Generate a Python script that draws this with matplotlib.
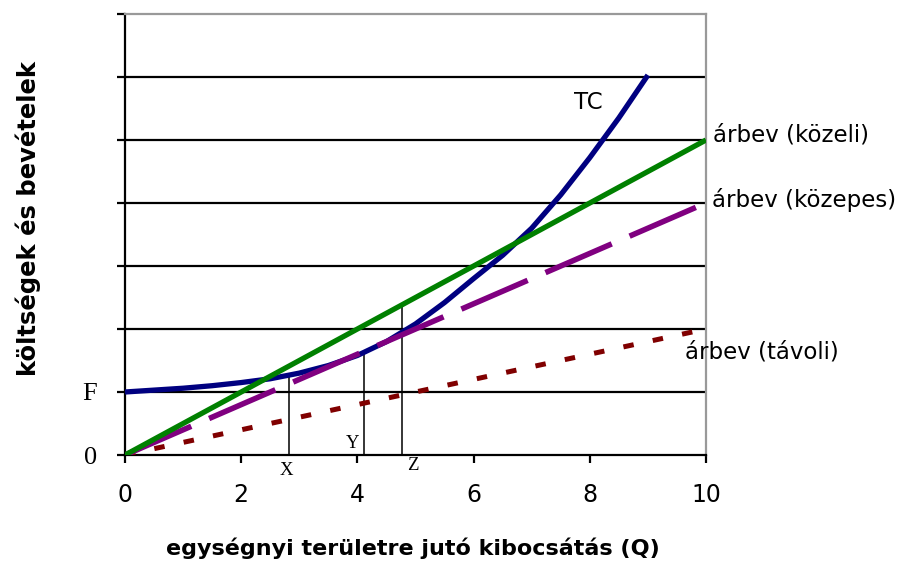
import numpy as np
import matplotlib
matplotlib.use("Agg")
import matplotlib.pyplot as plt

# TC (total cost) curve
q_tc = [0, 0.5, 1, 1.5, 2, 2.5, 3, 3.5, 4, 4.5, 5, 5.5, 6, 6.5, 7, 7.5, 8, 8.5, 9]
tc = [1.00, 1.03, 1.06, 1.10, 1.15, 1.21, 1.30, 1.42, 1.58, 1.80, 2.08, 2.42,
      2.80, 3.17, 3.60, 4.13, 4.72, 5.35, 6.03]

# revenue lines (straight from origin)
q_rev = [0, 10]
rev_kozeli = [0, 5.0]
rev_kozepes = [0, 4.0]
rev_tavoli = [0, 2.0]

# marked output levels X, Y, Z
mark_names = ["X", "Y", "Z"]
mark_q = [2.82, 4.11, 4.77]

x_ticks = [0, 2, 4, 6, 8, 10]
y_ticks = [0, 1, 2, 3, 4, 5, 6, 7]
y_ticklabels = ["0", "F", "", "", "", "", "", ""]

navy = "#000080"
green = "#008000"
purple = "#800080"
darkred = "#800000"

fig = plt.figure(figsize=(9.06, 5.62), dpi=100)
ax = fig.add_axes([125 / 906, 1 - 455 / 562, 581 / 906, 441 / 562])

ax.set_xlim(0, 10)
ax.set_ylim(0, 7)

# horizontal grid
for yv in y_ticks[1:-1]:
    ax.axhline(yv, color="black", lw=1.6, zorder=1)

# vertical lines up to the curves
tops = [np.interp(mark_q[0], q_tc, tc),
        np.interp(mark_q[1], q_rev, rev_kozepes),
        np.interp(mark_q[2], q_rev, rev_kozeli)]
ax.vlines(mark_q, 0, tops, color="black", lw=1.1, zorder=2)

ax.plot(q_rev, rev_tavoli, color=darkred, lw=3.6, dashes=(2.1, 3.9),
        solid_capstyle="butt", dash_capstyle="butt", zorder=3)
ax.plot(q_tc, tc, color=navy, lw=3.8, zorder=4, solid_capstyle="butt")
ax.plot(q_rev, rev_kozepes, color=purple, lw=4.0, dashes=(13, 3.5),
        dash_capstyle="butt", zorder=5)
ax.plot(q_rev, rev_kozeli, color=green, lw=3.8, zorder=6, solid_capstyle="butt")

# spines
for s in ["left", "bottom"]:
    ax.spines[s].set_color("black")
    ax.spines[s].set_linewidth(1.6)
for s in ["top", "right"]:
    ax.spines[s].set_color("#999999")
    ax.spines[s].set_linewidth(1.6)

ax.set_xticks(x_ticks)
ax.set_xticklabels([str(v) for v in x_ticks], fontsize=17, family="DejaVu Sans")
ax.set_yticks(y_ticks)
ax.set_yticklabels(y_ticklabels, fontsize=19, family="Liberation Serif")
ax.tick_params(axis="x", direction="out", length=6, width=1.6, pad=14)
ax.tick_params(axis="y", direction="out", length=6, width=1.6, pad=14)

# curve labels
lab_font = dict(fontsize=16.5, family="DejaVu Sans", clip_on=False)
ax.text(7.98, 5.59, "TC", ha="center", va="center", **lab_font)
ax.text(10.12, 5.08, "árbev (közeli)", ha="left", va="center", **lab_font)
ax.text(10.10, 4.05, "árbev (közepes)", ha="left", va="center", **lab_font)
ax.text(9.64, 1.63, "árbev (távoli)", ha="left", va="center", **lab_font)

# X, Y, Z marks
mark_pos = [(2.77, -0.24), (3.91, 0.19), (4.96, -0.17)]
for name, (mx, my) in zip(mark_names, mark_pos):
    ax.text(mx, my, name, ha="center", va="center", fontsize=13.5,
            family="Liberation Serif", clip_on=False)

fig.text(413 / 906, 1 - 548 / 562, "egységnyi területre jutó kibocsátás (Q)",
         ha="center", va="center", fontsize=16, fontweight="bold", family="DejaVu Sans")
fig.text(28 / 906, 1 - 219 / 562, "költségek és bevételek", rotation=90,
         ha="center", va="center", fontsize=17.5, fontweight="bold", family="DejaVu Sans")

fig.savefig("out.png", dpi=100)
